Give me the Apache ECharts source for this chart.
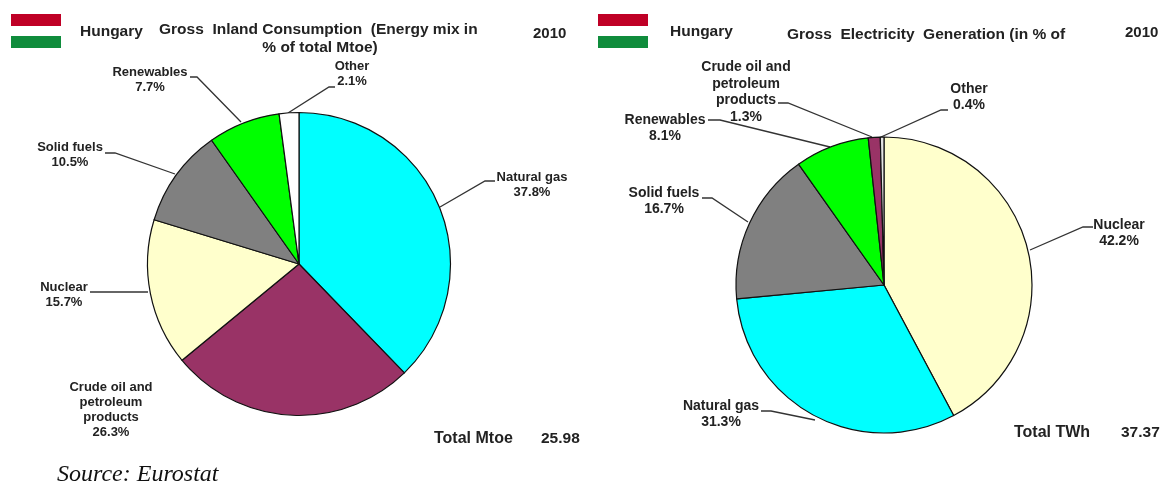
<!DOCTYPE html>
<html>
<head>
<meta charset="utf-8">
<style>
html, body { margin: 0; padding: 0; background: #fff; }
#main { width: 1161px; height: 483px; }
</style>
<script src="https://cdn.jsdelivr.net/npm/echarts@6/dist/echarts.min.js"></script>
</head>
<body>
<div id="main"></div>
<script>
// energy mix, left pie
var inlandNames = ['Natural gas', 'Crude oil and\npetroleum\nproducts', 'Nuclear', 'Solid fuels', 'Renewables', 'Other'];
var inlandValues = [37.8, 26.3, 15.7, 10.5, 7.7, 2.1];
var inlandColors = ['#00ffff', '#993366', '#ffffcc', '#808080', '#00ff00', '#ffffff'];

// electricity generation, right pie
var powerNames = ['Nuclear', 'Natural gas', 'Solid fuels', 'Renewables', 'Crude oil and\npetroleum\nproducts', 'Other'];
var powerValues = [42.2, 31.3, 16.7, 8.1, 1.3, 0.4];
var powerColors = ['#ffffcc', '#00ffff', '#808080', '#00ff00', '#993366', '#e4e4e4'];

// label centre x, label centre y, then the leader line
var inlandLabels = [
    { x: 532, y: 185, line: [[495, 181], [485, 181], [440, 207]] },
    { x: 111, y: 410, line: null },
    { x: 64, y: 295, line: [[90, 292], [120, 292], [148, 292]] },
    { x: 70, y: 155, line: [[105, 153], [115, 153], [175, 174]] },
    { x: 150, y: 80, line: [[190, 77], [197, 77], [241, 122]] },
    { x: 352, y: 74, line: [[335, 87], [329, 87], [288, 113]] }
];
var powerLabels = [
    { x: 1119, y: 233, line: [[1093, 227], [1083, 227], [1030, 250]] },
    { x: 721, y: 414, line: [[761, 411], [771, 411], [815, 420]] },
    { x: 664, y: 201, line: [[702, 198], [712, 198], [748, 222]] },
    { x: 665, y: 128, line: [[708, 120], [720, 120], [830, 147]] },
    { x: 746, y: 92, line: [[778, 103], [788, 103], [872, 137]] },
    { x: 969, y: 97, line: [[948, 110], [941, 110], [881, 137]] }
];

function pieData(names, values, colors) {
    return names.map(function (name, i) {
        return { name: name, value: values[i], itemStyle: { color: colors[i] } };
    });
}

function pieSeries(center, radius, data, labels, fontSize, lineHeight) {
    return {
        type: 'pie',
        center: center,
        radius: radius,
        startAngle: 90,
        clockwise: true,
        silent: true,
        avoidLabelOverlap: false,
        data: data,
        itemStyle: { borderColor: '#111', borderWidth: 1.2 },
        label: {
            formatter: '{b}\n{c}%',
            fontFamily: 'Liberation Sans',
            fontWeight: 'bold',
            fontSize: fontSize,
            lineHeight: lineHeight,
            color: '#222',
            align: 'center'
        },
        labelLine: { show: true, lineStyle: { color: '#333', width: 1.3 } },
        labelLayout: function (params) {
            var pos = labels[params.dataIndex];
            return {
                x: pos.x,
                y: pos.y,
                align: 'center',
                verticalAlign: 'middle',
                labelLinePoints: pos.line || [[pos.x, pos.y], [pos.x, pos.y], [pos.x, pos.y]]
            };
        }
    };
}

function flag(x) {
    return [
        { type: 'rect', shape: { x: x, y: 14, width: 50, height: 12 }, style: { fill: '#bf0026' } },
        { type: 'rect', shape: { x: x, y: 26, width: 50, height: 10 }, style: { fill: '#ffffff' } },
        { type: 'rect', shape: { x: x, y: 36, width: 50, height: 12 }, style: { fill: '#0f8c3c' } }
    ];
}

function text(str, x, y, size, align) {
    return {
        type: 'text',
        x: x,
        y: y,
        style: {
            text: str,
            fontFamily: 'Liberation Sans',
            fontWeight: 'bold',
            fontSize: size,
            fill: '#222',
            align: align || 'left',
            verticalAlign: 'middle'
        }
    };
}

var titles = [
    text('Hungary', 80, 32, 15.5),
    text('Gross  Inland Consumption  (Energy mix in', 159, 30, 15.5),
    text('% of total Mtoe)', 320, 48, 15.5, 'center'),
    text('2010', 533, 34, 15),
    text('Total Mtoe', 434, 439, 16),
    text('25.98', 541, 439, 15.5),
    text('Hungary', 670, 32, 15.5),
    text('Gross  Electricity  Generation (in % of', 787, 35, 15.5),
    text('2010', 1125, 33, 15),
    text('Total TWh', 1014, 433, 16),
    text('37.37', 1121, 433, 15.5),
    {
        type: 'text',
        x: 57,
        y: 475,
        style: {
            text: 'Source: Eurostat',
            fontFamily: 'Liberation Serif',
            fontStyle: 'italic',
            fontSize: 24,
            fill: '#111',
            verticalAlign: 'middle'
        }
    }
];

var chart = echarts.init(document.getElementById('main'));
chart.setOption({
    backgroundColor: '#ffffff',
    animation: false,
    graphic: flag(11).concat(flag(598), titles),
    series: [
        pieSeries([299, 264], 151.5, pieData(inlandNames, inlandValues, inlandColors), inlandLabels, 13, 15.2),
        pieSeries([884, 285], 148, pieData(powerNames, powerValues, powerColors), powerLabels, 14, 16.7)
    ]
});
</script>
</body>
</html>
